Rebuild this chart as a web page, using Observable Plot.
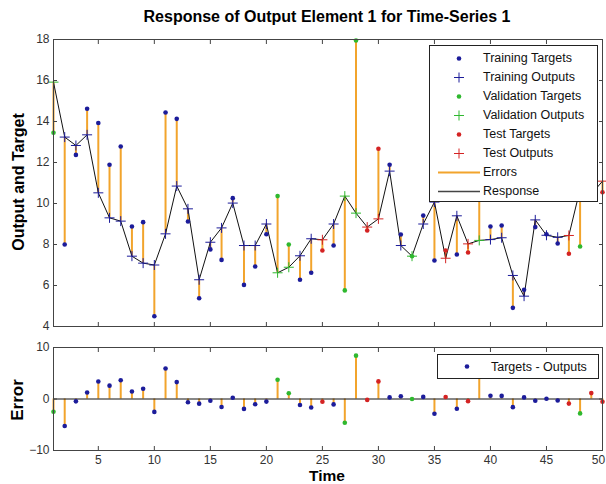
<!DOCTYPE html>
<html><head><meta charset="utf-8">
<script src="https://cdn.jsdelivr.net/npm/d3@7"></script>
<script src="https://cdn.jsdelivr.net/npm/@observablehq/plot@0.6"></script>
<style>
body{margin:0;background:#fff;}
#wrap{position:relative;width:606px;height:484px;font-family:"Liberation Sans",Arial,sans-serif;background:#fff;overflow:hidden;}
.abs{position:absolute;}
.lbl{font-weight:bold;font-size:16px;color:#000;white-space:nowrap;line-height:1;}
.legend{position:absolute;background:#fff;border:1px solid #222;box-sizing:border-box;}
.row{position:absolute;left:0;height:19px;width:100%;}
.row svg{position:absolute;left:0;top:0;}
.row span{position:absolute;left:53px;top:50%;transform:translateY(-50%);font-size:12.5px;color:#111;white-space:nowrap;}
</style></head><body>
<div id="wrap">
  <div id="top" class="abs" style="left:0;top:0"></div>
  <div id="bot" class="abs" style="left:0;top:335px"></div>
  <div class="abs lbl" style="left:327px;top:17px;transform:translate(-50%,-50%)">Response of Output Element 1 for Time-Series 1</div>
  <div class="abs lbl" style="left:19px;top:182px;transform:translate(-50%,-50%) rotate(-90deg)">Output and Target</div>
  <div class="abs lbl" style="left:17px;top:400px;transform:translate(-50%,-50%) rotate(-90deg);font-size:17px">Error</div>
  <div class="abs lbl" style="left:327px;top:476px;transform:translate(-50%,-50%);font-size:15.5px">Time</div>
  <div id="legTop" class="legend" style="left:429px;top:45px;width:169px;height:157px"></div>
  <div id="legBot" class="legend" style="left:437px;top:354px;width:162px;height:25px"></div>
</div>
<script>
const times = [1,2,3,4,5,6,7,8,9,10,11,12,13,14,15,16,17,18,19,20,21,22,23,24,25,26,27,28,29,30,31,32,33,34,35,36,37,38,39,40,41,42,43,44,45,46,47,48,49,50];
const targets = [13.45,8.0,12.37,14.62,13.93,11.89,12.78,8.88,9.09,4.5,14.44,14.13,9.12,5.38,7.76,7.25,10.26,6.03,6.93,8.5,10.36,8.0,6.28,6.62,7.71,7.95,5.76,17.95,8.68,12.67,11.89,8.49,7.43,9.41,7.22,7.71,7.51,7.61,12.6,8.88,8.93,4.91,5.79,8.85,8.5,8.05,7.55,7.9,11.6,10.55];
const outputs = [15.92,13.24,12.83,13.35,10.52,9.3,9.14,7.43,7.09,7.0,8.52,10.85,9.74,6.28,8.11,8.81,10.02,7.95,7.95,9.0,6.62,6.89,7.45,8.28,8.23,9.0,10.36,9.53,8.85,9.25,11.58,7.95,7.43,9.0,10.07,7.33,9.4,8.03,8.2,8.24,8.33,6.49,5.48,9.2,8.45,8.35,8.44,10.7,10.45,11.09];
// T = training, V = validation, S = test
const sets = ["V","T","T","T","T","T","T","T","T","T","T","T","T","T","T","T","T","T","T","T","V","V","T","T","S","T","V","V","S","S","T","T","V","T","T","S","T","S","V","T","T","T","T","T","T","T","S","V","S","S"];
const setColors = {T:"#1c1c9a", V:"#2fb82f", S:"#d42323"};
const errorColor = "#f2a42c";
const responseColor = "#111111";
const xTicks = [5,10,15,20,25,30,35,40,45,50];
const yTicksTop = [4,6,8,10,12,14,16,18];
const yTicksBottom = [-10,0,10];
const legendTopItems = [
  ["Training Targets","dot","T"],["Training Outputs","plus","T"],
  ["Validation Targets","dot","V"],["Validation Outputs","plus","V"],
  ["Test Targets","dot","S"],["Test Outputs","plus","S"],
  ["Errors","line","E"],["Response","line","R"]
];
const legendBottomLabel = "Targets - Outputs";

const data = times.map((t,i)=>({t, target:targets[i], output:outputs[i], err:targets[i]-outputs[i], color:setColors[sets[i]]}));

const plus = {draw(ctx,size){const r=Math.sqrt(size/Math.PI);ctx.moveTo(-r,0);ctx.lineTo(r,0);ctx.moveTo(0,-r);ctx.lineTo(0,r);}};
const style = {fontFamily:'"Liberation Sans",Arial,sans-serif',fontSize:"12px",background:"transparent",color:"#333"};
const frameAxes = (yt) => [
  Plot.frame({stroke:"#444"}),
  Plot.axisY(yt,{anchor:"left",tickSize:-4,tickPadding:8,stroke:"#444",fill:"#333",label:null}),
  Plot.axisY(yt,{anchor:"right",tickSize:-4,tickFormat:()=>"",stroke:"#444",label:null}),
  Plot.axisX(xTicks,{anchor:"top",tickSize:-4,tickFormat:()=>"",stroke:"#444",label:null})
];
const lastTick = xTicks[xTicks.length-1];

const topPlot = Plot.plot({
  width:606,height:335,marginTop:39,marginBottom:9,marginLeft:53,marginRight:4,
  style,
  x:{domain:[1,50]}, y:{domain:[4,18]},
  marks:[
    Plot.ruleX(data,{x:"t",y1:"target",y2:"output",stroke:errorColor,strokeWidth:2}),
    Plot.line(data,{x:"t",y:"output",stroke:responseColor,strokeWidth:1}),
    Plot.dot(data,{x:"t",y:"target",r:2.3,fill:"color"}),
    Plot.dot(data,{x:"t",y:"output",r:5,symbol:plus,stroke:"color",fill:"none",strokeWidth:1}),
    ...frameAxes(yTicksTop),
    Plot.axisX(xTicks,{anchor:"bottom",tickSize:-4,tickFormat:()=>"",stroke:"#444",label:null})
  ]
});
document.getElementById("top").appendChild(topPlot);

const botPlot = Plot.plot({
  width:606,height:149,marginTop:12,marginBottom:34,marginLeft:53,marginRight:4,
  style,
  x:{domain:[1,50]}, y:{domain:[-10,10]},
  marks:[
    Plot.ruleX(data,{x:"t",y1:0,y2:"err",stroke:errorColor,strokeWidth:2}),
    Plot.ruleY([0],{stroke:responseColor,strokeWidth:1}),
    Plot.dot(data,{x:"t",y:"err",r:2.3,fill:"color"}),
    ...frameAxes(yTicksBottom),
    Plot.axisX(xTicks,{anchor:"bottom",tickSize:-4,tickPadding:9,stroke:"#444",fill:"#333",label:null,tickFormat:d=>d===lastTick?"":String(d)}),
    Plot.axisX([lastTick],{anchor:"bottom",tickSize:0,tickPadding:5,dx:-4,fill:"#333",stroke:"none",label:null})
  ]
});
document.getElementById("bot").appendChild(botPlot);

function symbolSvg(kind, color){
  const ns="http://www.w3.org/2000/svg";
  const s=document.createElementNS(ns,"svg");
  s.setAttribute("width","52");s.setAttribute("height","19");
  let el;
  if(kind==="dot"){el=document.createElementNS(ns,"circle");el.setAttribute("cx","29");el.setAttribute("cy","9.5");el.setAttribute("r","2.3");el.setAttribute("fill",color);}
  else if(kind==="plus"){el=document.createElementNS(ns,"path");el.setAttribute("d","M24,9.5H34M29,4.5V14.5");el.setAttribute("stroke",color);el.setAttribute("fill","none");}
  else {el=document.createElementNS(ns,"line");el.setAttribute("x1","8");el.setAttribute("x2","50");el.setAttribute("y1","9.5");el.setAttribute("y2","9.5");el.setAttribute("stroke",color);el.setAttribute("stroke-width",color===errorColor?"2":"1.5");}
  s.appendChild(el);return s;
}
const legTop=document.getElementById("legTop");
legendTopItems.forEach(([label,kind,key],i)=>{
  const row=document.createElement("div");row.className="row";row.style.top=(2.5+i*19)+"px";
  const color = key==="E"?errorColor:key==="R"?"#444":setColors[key];
  row.appendChild(symbolSvg(kind,color));
  const sp=document.createElement("span");sp.textContent=label;row.appendChild(sp);
  legTop.appendChild(row);
});
const legBot=document.getElementById("legBot");
const rb=document.createElement("div");rb.className="row";rb.style.top="2px";
rb.appendChild(symbolSvg("dot",setColors.T));
const sb=document.createElement("span");sb.textContent=legendBottomLabel;rb.appendChild(sb);
legBot.appendChild(rb);
</script>
</body></html>
